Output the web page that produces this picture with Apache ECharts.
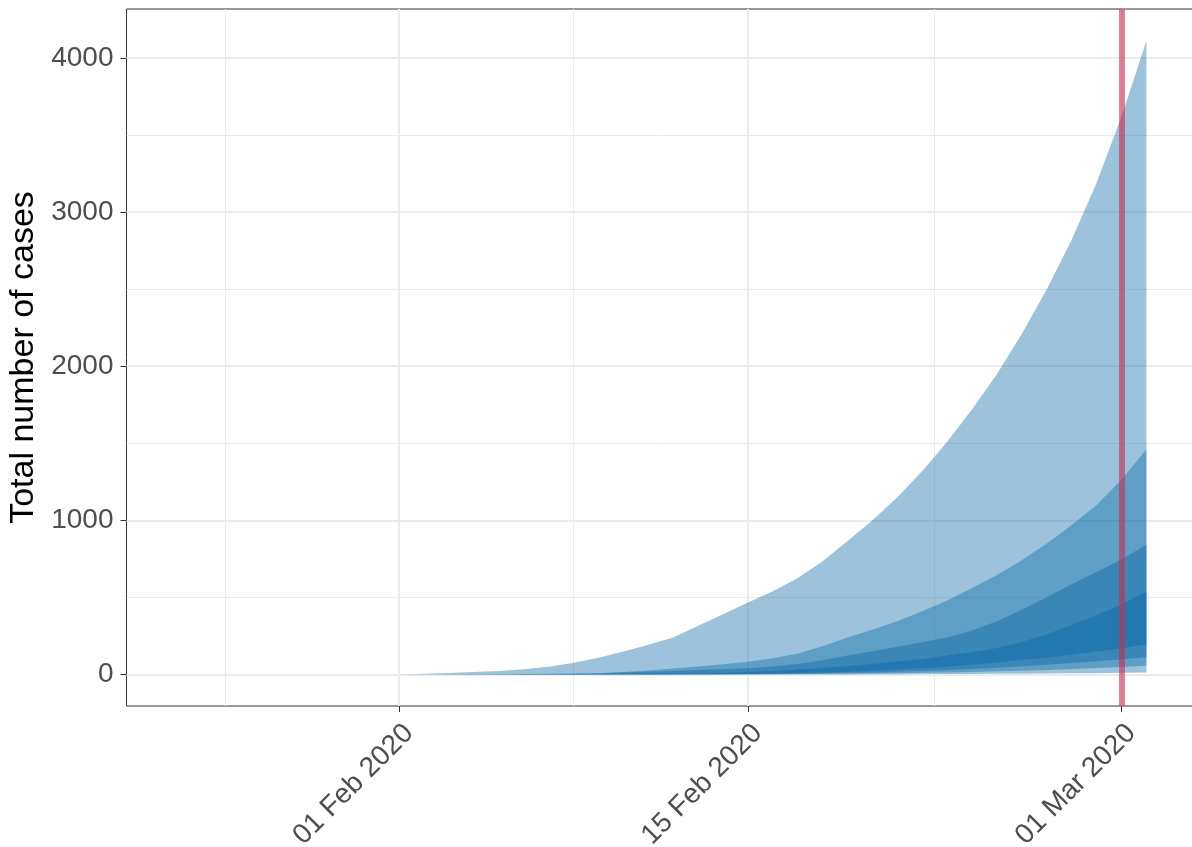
<!DOCTYPE html>
<html><head><meta charset="utf-8">
<script src="https://cdn.jsdelivr.net/npm/echarts@6/dist/echarts.min.js"></script>
<style>html,body{margin:0;padding:0;background:#fff}#c{width:1192px;height:847px}</style>
</head><body><div id="c"></div>
<script>
// ---- data ----
const dates = ['2020-01-23','2020-01-24','2020-01-25','2020-01-26','2020-01-27','2020-01-28','2020-01-29','2020-01-30','2020-01-31',
  '2020-02-01','2020-02-02','2020-02-03','2020-02-04','2020-02-05','2020-02-06','2020-02-07','2020-02-08','2020-02-09','2020-02-10',
  '2020-02-11','2020-02-12','2020-02-13','2020-02-14','2020-02-15','2020-02-16','2020-02-17','2020-02-18','2020-02-19','2020-02-20',
  '2020-02-21','2020-02-22','2020-02-23','2020-02-24','2020-02-25','2020-02-26','2020-02-27','2020-02-28','2020-02-29','2020-03-01','2020-03-02'];

// widest ribbon
const band1Low  = [0,0,0,0,0,0,0,0,0, 0,0,0,0,0,0,0,0,0,0, 0,0,0,0,0,0,0,0,0,1, 1,2,2,3,4,5,6,7,8,10,12];
const band1High = [0,0,0,0,0,0,0,0,0, 0,4,9,15,22,33,50,76,108,148, 192,240,315,390,467,540,625,735,865,1000, 1150,1320,1510,1720,1950,2210,2500,2820,3190,3620,4112];
// second ribbon
const band2Low  = [0,0,0,0,0,0,0,0,0, 0,0,0,0,0,0,0,0,0,0, 0,0,0,0,0,1,2,3,4,6, 8,10,13,16,20,24,29,35,41,48,56];
const band2High = [0,0,0,0,0,0,0,0,0, 0,0,1,1,2,3,4,6,8,15, 25,38,52,66,82,105,135,182,240,290, 345,410,480,560,645,740,850,970,1100,1265,1460];
// third ribbon
const band3Low  = [0,0,0,0,0,0,0,0,0, 0,0,0,0,0,0,0,0,0,0, 0,0,0,1,2,3,5,7,10,13, 17,22,28,35,44,53,63,74,86,98,112];
const band3High = [0,0,0,0,0,0,0,0,0, 0,0,0,1,1,2,3,5,8,12, 17,22,28,33,40,52,67,92,122,150, 180,208,240,285,345,420,500,585,665,746,843];
// narrowest ribbon
const band4Low  = [0,0,0,0,0,0,0,0,0, 0,0,0,0,0,0,0,0,0,0, 0,1,2,3,4,6,9,13,18,24, 31,40,50,63,78,94,110,128,148,170,194];
const band4High = [0,0,0,0,0,0,0,0,0, 0,0,0,0,0,1,1,2,3,4, 5,6,8,11,15,22,31,42,55,68, 84,100,122,145,172,210,260,320,385,455,538];

const tickDates  = ['2020-02-01','2020-02-15','2020-03-01'];
const tickLabels = ['01 Feb 2020','15 Feb 2020','01 Mar 2020'];
const yTicks = [0,1000,2000,3000,4000];
const vlineDate = '2020-03-01';
const yTitle = 'Total number of cases';

// ---- build ----
const day0 = Date.parse('2020-02-01');
const toDay = d => (Date.parse(d) - day0) / 86400000;
const xs = dates.map(toDay);
const xTicks = tickDates.map(toDay);
const xMinor = [xTicks[0] - (xTicks[1]-xTicks[0])/2];
for (let i=0;i<xTicks.length-1;i++) xMinor.push((xTicks[i]+xTicks[i+1])/2);
const yStep = yTicks[1]-yTicks[0];
const yMinor = yTicks.slice(0,-1).map(v => v + yStep/2);

const xMin = -10.95, xMax = 31.95, yMin = -205, yMax = 4318;

const fill = 'rgba(0,100,162,0.39)';
const ribbons = [[band1Low,band1High],[band2Low,band2High],[band3Low,band3High],[band4Low,band4High]];
const series = [];

// grid lines (under ribbons)
const gl = [];
xMinor.forEach(v => gl.push({xAxis:v, lineStyle:{color:'#ebebeb', width:1, type:'solid'}}));
yMinor.forEach(v => gl.push({yAxis:v, lineStyle:{color:'#ebebeb', width:1, type:'solid'}}));
xTicks.forEach(v => gl.push({xAxis:v, lineStyle:{color:'#ebebeb', width:2, type:'solid'}}));
yTicks.forEach(v => gl.push({yAxis:v, lineStyle:{color:'#ebebeb', width:2, type:'solid'}}));
series.push({
  type:'line', z:0, silent:true, symbol:'none', data:[[xs[0],0]], lineStyle:{opacity:0},
  markLine:{z:0, silent:true, symbol:['none','none'], label:{show:false}, animation:false, data:gl}
});

ribbons.forEach((r,i) => {
  const [lo,hi] = r;
  series.push({
    type:'custom', z:3, silent:true, clip:true,
    data: xs.map((x,j)=>[x, lo[j], hi[j]]),
    encode:{x:0, y:[1,2]},
    renderItem: (params, api) => {
      if (params.dataIndex !== 0) return null;
      const pts = [];
      for (let j=0;j<xs.length;j++) pts.push(api.coord([xs[j], hi[j]]));
      for (let j=xs.length-1;j>=0;j--) pts.push(api.coord([xs[j], lo[j]]));
      return {type:'polygon', shape:{points:pts}, style:{fill:fill, stroke:null}};
    }
  });
});

series.push({
  type:'line', z:10, silent:true, symbol:'none', data:[[xs[0],0]], lineStyle:{opacity:0},
  markLine:{z:10, silent:true, symbol:['none','none'], label:{show:false}, animation:false,
    lineStyle:{color:'rgba(200,45,85,0.6)', width:6, type:'solid'},
    data:[{xAxis: toDay(vlineDate)}]}
});

const font = 'Liberation Sans, Arial, Helvetica, sans-serif';
const chart = echarts.init(document.getElementById('c'));
chart.setOption({
  animation:false,
  backgroundColor:'#ffffff',
  grid:{left:126.5, top:9, right:-3, bottom:141, show:true, borderColor:'#333333', borderWidth:1,
        outerBoundsMode:'none', containLabel:false, z:0},
  xAxis:{
    type:'value', min:xMin, max:xMax, z:12, position:'bottom',
    axisLine:{show:false, onZero:false}, splitLine:{show:false},
    axisTick:{show:true, customValues:xTicks, length:6, lineStyle:{color:'#333333', width:1}},
    axisLabel:{show:true, customValues:xTicks, rotate:45, align:'right', verticalAlign:'top', margin:13,
      fontSize:28, fontFamily:font, color:'#4d4d4d',
      formatter: v => { const k = xTicks.findIndex(t => Math.abs(t - v) < 1e-6); return k >= 0 ? tickLabels[k] : ''; }}
  },
  yAxis:{
    type:'value', min:yMin, max:yMax, z:12, position:'left',
    name:yTitle, nameLocation:'middle', nameGap:73,
    nameTextStyle:{fontSize:34, fontFamily:font, color:'#000000'},
    axisLine:{show:false, onZero:false}, splitLine:{show:false},
    axisTick:{show:true, customValues:yTicks, length:6, lineStyle:{color:'#333333', width:1}},
    axisLabel:{show:true, customValues:yTicks, margin:13, fontSize:28, fontFamily:font, color:'#4d4d4d',
      formatter: v => String(v)}
  },
  series: series
});
</script></body></html>
